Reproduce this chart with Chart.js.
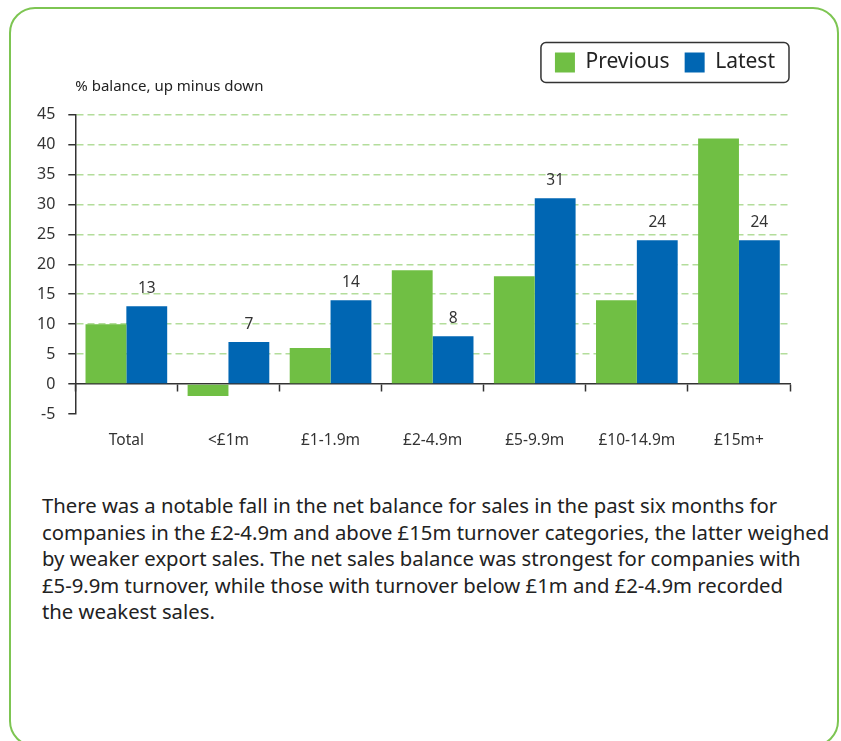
<!DOCTYPE html>
<html>
<head>
<meta charset="utf-8">
<script src="https://cdn.jsdelivr.net/npm/chart.js@4"></script>
<style>
  body { margin: 0; background: #fff; width: 841px; height: 741px; overflow: hidden; position: relative; font-family: "Noto Sans", sans-serif; }
  .frame { position: absolute; left: 9px; top: 7px; width: 826px; height: 736px; border: 2px solid #7dc552; border-radius: 26px; }
  .chart-box { position: absolute; left: 0; top: 0; width: 841px; height: 470px; }
  .note { position: absolute; left: 42px; top: 492px; font-size: 20.3px; line-height: 26.5px; color: #222; white-space: nowrap; }
</style>
</head>
<body>
<div class="frame"></div>
<div class="chart-box"><canvas id="chart"></canvas></div>
<div class="note">There was a notable fall in the net balance for sales in the past six months for<br>companies in the £2-4.9m and above £15m turnover categories, the latter weighed<br>by weaker export sales. The net sales balance was strongest for companies with<br>£5-9.9m turnover, while those with turnover below £1m and £2-4.9m recorded<br>the weakest sales.</div>
<script>
const categories = ['Total', '<£1m', '£1-1.9m', '£2-4.9m', '£5-9.9m', '£10-14.9m', '£15m+'];
const previous = [10, -2, 6, 19, 18, 14, 41];
const latest = [13, 7, 14, 8, 31, 24, 24];
const unitLabel = '% balance, up minus down';

const textColor = '#333333';
const axisColor = '#333333';

// labels above the Latest bars + border round the legend
const extras = {
  id: 'extras',
  afterDatasetsDraw(chart) {
    const ctx = chart.ctx;
    const meta = chart.getDatasetMeta(1);
    ctx.save();
    ctx.fillStyle = textColor;
    ctx.font = '15.5px "Noto Sans"';
    ctx.textAlign = 'center';
    ctx.textBaseline = 'bottom';
    meta.data.forEach((bar, i) => {
      ctx.fillText(latest[i], bar.x, bar.y - 10);
    });
    ctx.restore();
  },
  afterDraw(chart) {
    const boxes = chart.legend.legendHitBoxes;
    if (!boxes || !boxes.length) return;
    const first = boxes[0];
    const last = boxes[boxes.length - 1];
    const mid = first.top + first.height / 2;
    const x = first.left - 14;
    const w = last.left + last.width - first.left + 28;
    const ctx = chart.ctx;
    ctx.save();
    ctx.strokeStyle = '#333';
    ctx.lineWidth = 1.5;
    ctx.beginPath();
    ctx.roundRect(x, mid - 20, w, 40, 5);
    ctx.stroke();
    ctx.restore();
  }
};

new Chart(document.getElementById('chart'), {
  type: 'bar',
  data: {
    labels: categories,
    datasets: [
      { label: 'Previous', data: previous, backgroundColor: '#70bf44' },
      { label: 'Latest', data: latest, backgroundColor: '#0066b3' }
    ]
  },
  options: {
    responsive: true,
    maintainAspectRatio: false,
    animation: false,
    categoryPercentage: 0.8,
    barPercentage: 1,
    layout: { padding: { top: 37, right: 51, left: 24, bottom: 56 } },
    plugins: {
      legend: {
        align: 'end',
        labels: {
          boxWidth: 20,
          boxHeight: 20,
          padding: 15,
          color: '#222',
          font: { family: 'Noto Sans', size: 21 }
        }
      },
      title: {
        display: true,
        text: unitLabel,
        align: 'start',
        fullSize: false,
        weight: 500,
        color: '#222',
        font: { family: 'Noto Sans', size: 15, weight: 'normal', lineHeight: 0.5 },
        padding: { top: 0, bottom: 24 }
      },
      tooltip: { enabled: false }
    },
    scales: {
      x: {
        position: { y: 0 },
        grid: { drawOnChartArea: false, drawTicks: true, tickLength: 7, tickColor: axisColor, tickWidth: 1.5 },
        border: { color: axisColor, width: 1.5 },
        ticks: { color: textColor, padding: 40, font: { family: 'Noto Sans', size: 15.5 } }
      },
      y: {
        min: -5,
        max: 45,
        ticks: { stepSize: 5, color: textColor, padding: 13, font: { family: 'Noto Sans', size: 16 } },
        grid: {
          color: c => (c.tick && c.tick.value > 0 ? '#b3dd9b' : 'rgba(0,0,0,0)'),
          lineWidth: 1.5,
          tickColor: axisColor,
          tickWidth: 1.5,
          tickLength: 7
        },
        border: { color: axisColor, width: 1.5, dash: [7, 4] }
      }
    }
  },
  plugins: [extras]
});
</script>
</body>
</html>
